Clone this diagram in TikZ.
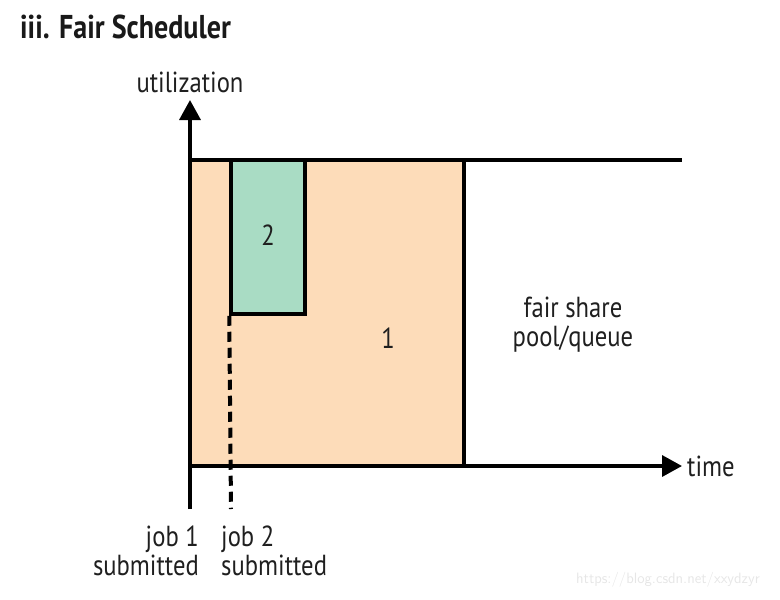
\documentclass[tikz,border=0pt]{standalone}
\usepackage{fontspec}
\setmainfont{PT Sans}
\usetikzlibrary{arrows.meta, positioning}
\definecolor{jobone}{HTML}{FDDCB9}
\definecolor{jobtwo}{HTML}{A9DCC4}
\definecolor{mark}{HTML}{E6E6E6}
\tikzstyle{axis} = [line width=3.5pt,-{Triangle[length=20pt,width=21pt]}]
\tikzstyle{edge} = [line width=3.5pt]
\tikzset{
jobbox/.style={rectangle,draw,line width=3.5pt,inner sep=0pt},
txt/.style={inner sep=0pt,xscale=0.85,font=\fontsize{29}{29}\selectfont,text=black!88},
twoline/.style={txt,align=center}
}

\begin{document}
\begin{tikzpicture}[x=1pt,y=-1pt]
\useasboundingbox (0,0) rectangle (780,600);
%----------------------------------------------------------------------------
% Placement of boxes
\node (jobOne) [jobbox,fill=jobone,minimum width=274pt,minimum height=306pt] at (327,313) {};
\node (jobTwo) [jobbox,fill=jobtwo,minimum width=74pt,minimum height=154pt] at (268,237) {};
\node (numOne) [txt] at (388,338) {1};
\node (numTwo) [txt] at (268,235) {2};

%----------------------------------------------------------------------------
% Lines
\coordinate (origin) at (190,466);
\coordinate (yTip) at (190,100);
\coordinate (yFoot) at (190,509);
\coordinate (xTip) at (682,466);
\coordinate (capLeft) at (190,160);
\coordinate (capRight) at (682,160);
\coordinate (dashFoot) at (231,509);
\draw [edge] (capLeft) -- (capRight);
\draw [axis] (yFoot) -- (yTip);
\draw [axis] (origin) -- (xTip);
\draw [edge,line width=4pt,dash pattern=on 10pt off 6pt] (jobTwo.south west) -- (dashFoot);

%----------------------------------------------------------------------------
% Notes
\node (title) [txt,font=\bfseries\fontsize{33}{33}\selectfont,text=black!90,anchor=west] at (20,27) {iii. Fair Scheduler};
\node (util) [txt,above=7pt of yTip] {utilization};
\node (time) [txt,right=5pt of xTip] {time};
\node (pool) [twoline] at (573,325) {fair share\\pool/queue};
\node (subOne) [txt,align=right,anchor=north east] at (199,526) {job 1\\submitted};
\node (subTwo) [txt,align=left,anchor=north west] at (221,526) {job 2\\submitted};
\node (mark) [inner sep=0pt,text=mark,font=\sffamily\fontsize{15}{17}\selectfont] at (668,580) {https://blog.csdn.net/xxydzyr};

\end{tikzpicture}
\end{document}
